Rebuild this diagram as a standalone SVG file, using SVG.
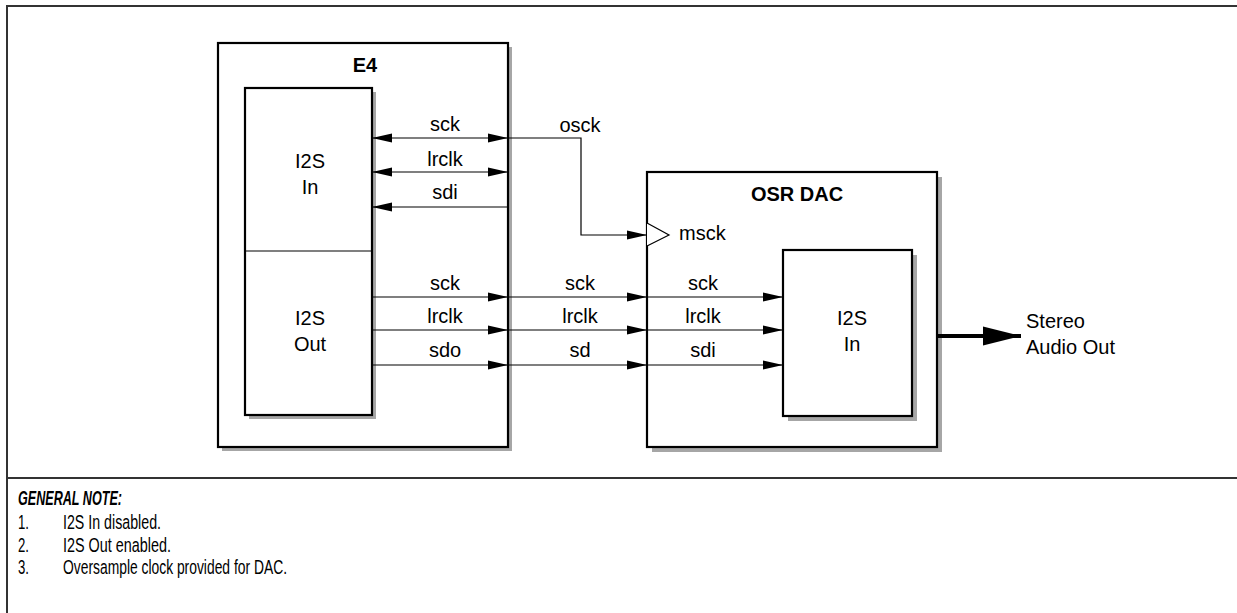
<svg xmlns="http://www.w3.org/2000/svg" width="1237" height="613" viewBox="0 0 1237 613">
<defs>
<style>
.frame{fill:none;stroke:#333;stroke-width:2}
.shadow{fill:#a6a6a6;stroke:none}
.box{fill:#fff;stroke:#000;stroke-width:2.2}
.sig{fill:none;stroke:#000;stroke-width:1.2}
.t{font-family:"Liberation Sans",Arial,sans-serif;font-size:20px;fill:#000}
.c{text-anchor:middle}
.b{font-weight:bold}
.n{font-family:"Liberation Sans Narrow","Liberation Sans",Arial,sans-serif;font-stretch:condensed;font-size:20.5px;fill:#000}
</style>
<marker id="ah" viewBox="0 0 20 10" refX="20" refY="5" markerWidth="20" markerHeight="10" markerUnits="userSpaceOnUse" orient="auto-start-reverse">
<path d="M0,0.5 L20,5 L0,9.5 Z" fill="#000"/>
</marker>
<marker id="big" viewBox="0 0 38 20" refX="38" refY="10" markerWidth="38" markerHeight="20" markerUnits="userSpaceOnUse" orient="auto">
<path d="M0,0.5 L38,10 L0,19.5 Z" fill="#000"/>
</marker>
</defs>
<rect width="1237" height="613" fill="#fff"/>
<g id="frame">
<path class="frame" d="M1237,6 H7 V613 M7,478 H1237"/>
</g>
<g id="e4">
<rect class="shadow" x="222" y="47" width="290" height="404"/>
<rect class="box" x="218" y="43" width="290" height="404"/>
<text class="t c b" x="365" y="72">E4</text>
</g>
<g id="e4-i2s">
<rect class="shadow" x="249" y="92" width="127" height="327"/>
<rect class="box" x="245" y="88" width="127" height="327"/>
<line x1="245" y1="251" x2="372" y2="251" stroke="#000" stroke-width="1.2"/>
<text class="t c" x="310" y="168">I2S</text>
<text class="t c" x="310" y="194">In</text>
<text class="t c" x="310" y="325">I2S</text>
<text class="t c" x="310" y="351">Out</text>
</g>
<g id="dac">
<rect class="shadow" x="652" y="177" width="290" height="275"/>
<rect class="box" x="647" y="172" width="290" height="275"/>
<text class="t c b" x="797" y="201">OSR DAC</text>
<path d="M647,223 L669,235 L647,246" fill="#fff" stroke="#000" stroke-width="1.2"/>
<text class="t" x="679" y="240">msck</text>
</g>
<g id="dac-i2s">
<rect class="shadow" x="788" y="255" width="129" height="166"/>
<rect class="box" x="783" y="250" width="129" height="166"/>
<text class="t c" x="852" y="325">I2S</text>
<text class="t c" x="852" y="351">In</text>
</g>
<g id="connectors">
<line class="sig" x1="372" y1="138" x2="508" y2="138" marker-start="url(#ah)" marker-end="url(#ah)"/>
<line class="sig" x1="372" y1="172" x2="508" y2="172" marker-start="url(#ah)" marker-end="url(#ah)"/>
<line class="sig" x1="508" y1="207" x2="372" y2="207" marker-end="url(#ah)"/>
<path class="sig" d="M508,138 H581 V235 H647" marker-end="url(#ah)"/>
<line class="sig" x1="372" y1="297" x2="508" y2="297" marker-end="url(#ah)"/>
<line class="sig" x1="372" y1="330" x2="508" y2="330" marker-end="url(#ah)"/>
<line class="sig" x1="372" y1="365" x2="508" y2="365" marker-end="url(#ah)"/>
<line class="sig" x1="508" y1="297" x2="647" y2="297" marker-end="url(#ah)"/>
<line class="sig" x1="508" y1="330" x2="647" y2="330" marker-end="url(#ah)"/>
<line class="sig" x1="508" y1="365" x2="647" y2="365" marker-end="url(#ah)"/>
<line class="sig" x1="647" y1="297" x2="783" y2="297" marker-end="url(#ah)"/>
<line class="sig" x1="647" y1="330" x2="783" y2="330" marker-end="url(#ah)"/>
<line class="sig" x1="647" y1="365" x2="783" y2="365" marker-end="url(#ah)"/>
<line x1="937" y1="336" x2="1021" y2="336" stroke="#000" stroke-width="4" marker-end="url(#big)"/>
</g>
<g id="labels">
<text class="t c" x="445" y="131">sck</text>
<text class="t c" x="445" y="166">lrclk</text>
<text class="t c" x="445" y="199">sdi</text>
<text class="t c" x="580" y="132">osck</text>
<text class="t c" x="445" y="290">sck</text>
<text class="t c" x="445" y="323">lrclk</text>
<text class="t c" x="445" y="357">sdo</text>
<text class="t c" x="580" y="290">sck</text>
<text class="t c" x="580" y="323">lrclk</text>
<text class="t c" x="580" y="357">sd</text>
<text class="t c" x="703" y="290">sck</text>
<text class="t c" x="703" y="323">lrclk</text>
<text class="t c" x="703" y="357">sdi</text>
<text class="t" x="1026" y="328">Stereo</text>
<text class="t" x="1026" y="354">Audio Out</text>
</g>
<g id="notes">
<text class="n b" font-style="italic" x="18" y="505" textLength="104" lengthAdjust="spacingAndGlyphs">GENERAL NOTE:</text>
<text class="n" x="18" y="529" textLength="11" lengthAdjust="spacingAndGlyphs">1.</text>
<text class="n" x="63" y="529" textLength="98" lengthAdjust="spacingAndGlyphs">I2S In disabled.</text>
<text class="n" x="18" y="552" textLength="11" lengthAdjust="spacingAndGlyphs">2.</text>
<text class="n" x="63" y="552" textLength="108" lengthAdjust="spacingAndGlyphs">I2S Out enabled.</text>
<text class="n" x="18" y="574" textLength="11" lengthAdjust="spacingAndGlyphs">3.</text>
<text class="n" x="63" y="574" textLength="224" lengthAdjust="spacingAndGlyphs">Oversample clock provided for DAC.</text>
</g>
</svg>
